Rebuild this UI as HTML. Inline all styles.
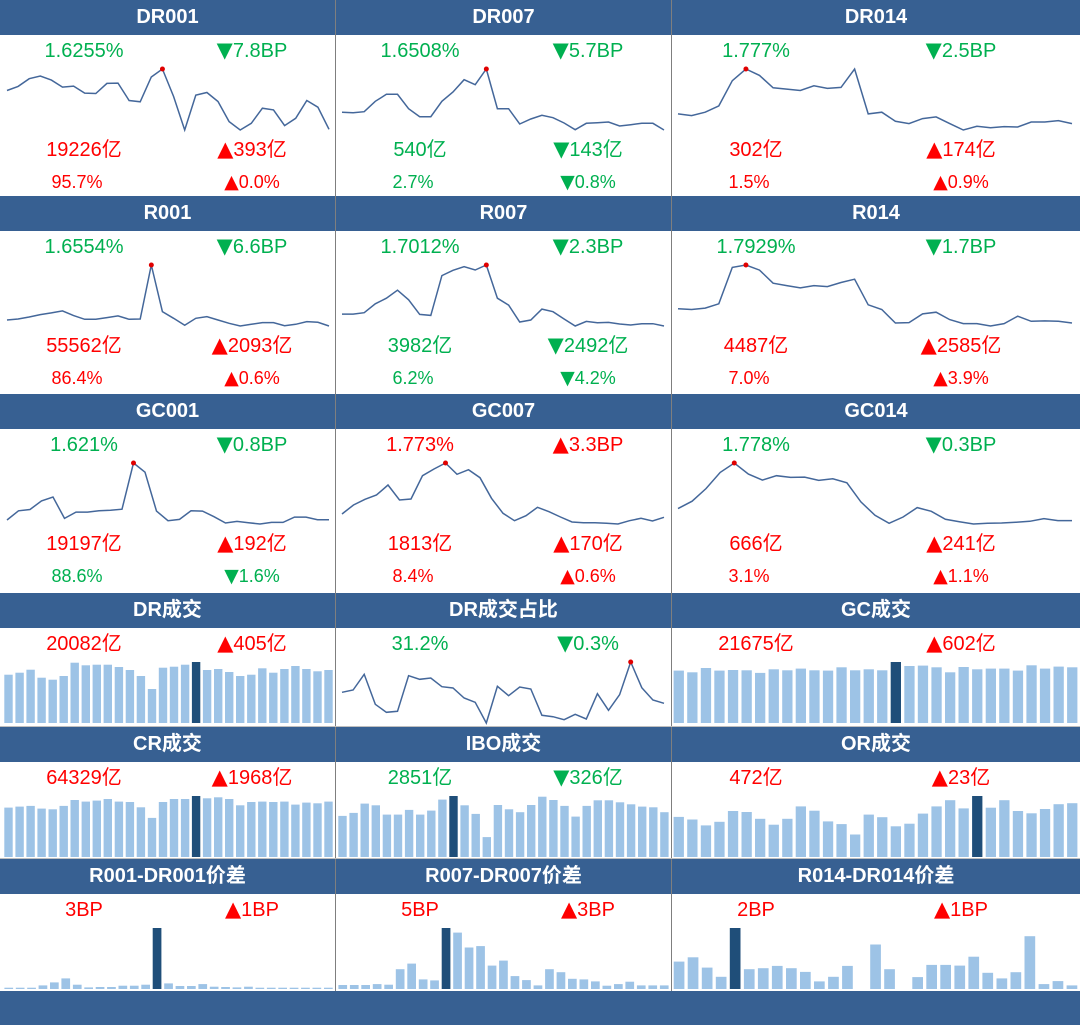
<!DOCTYPE html>
<html><head><meta charset="utf-8">
<style>
body{margin:0;width:1080px;height:1025px;background:#fff;position:relative;overflow:hidden;font-family:"Liberation Sans","Noto Sans CJK SC",sans-serif;}
.hd{position:absolute;height:35px;background:#376092;color:#fff;font-weight:bold;font-size:20px;line-height:35px;text-align:center;}
.tx{position:absolute;transform:translate(-50%,-50%);white-space:nowrap;font-size:20px;line-height:24px;}
.tri{font-family:"DejaVu Sans",sans-serif;font-size:1.05em;line-height:0;}
.g{color:#00b050}.r{color:#ff0000}
.sm{font-size:18px;line-height:22px}
.vl{position:absolute;width:1px;background:#7f7f7f;top:0;height:991px}
.hl{position:absolute;height:1px;background:#bfbfbf;left:0;width:1080px}
svg{position:absolute;left:0;top:0}
</style></head>
<body>
<svg id="charts" width="1080" height="1025"></svg>
<div id="root"></div>
<script>
// ---- data ----
const dr001Values=[128,140,163,171,159,138,141,120,119,149,150,98,94,168,192,110,10,114,122,95,35,10,30,75,70,23,45,98,78,12];
const dr007Values=[82,81,84,115,136,136,93,69,69,115,143,180,165,212,93,93,47,62,73,66,50,30,49,51,53,41,45,49,49,29];
const dr014Values=[78,73,83,102,177,212,193,156,152,148,162,154,157,212,78,83,56,49,64,69,49,30,41,37,40,39,54,54,58,49];
const r001Values=[48,51,57,64,69,75,61,50,50,55,60,50,51,212,73,53,32,53,58,48,38,30,35,40,40,31,35,43,41,30];
const r007Values=[64,64,68,95,112,136,107,63,60,180,196,207,197,212,112,91,40,46,79,71,49,28,42,38,39,34,31,35,35,28];
const r014Values=[80,78,82,95,203,210,195,156,149,142,149,146,158,168,92,78,38,39,65,70,48,36,36,29,36,58,43,44,43,38];
const gc001Values=[45,73,77,103,115,50,69,69,73,75,78,218,190,72,43,47,73,72,55,36,41,37,33,38,38,54,54,46,46];
const gc007Values=[63,90,107,120,150,105,108,178,198,216,182,196,172,110,65,43,58,83,70,54,39,37,37,35,33,43,50,42,53];
const gc014Values=[80,102,140,188,216,183,165,178,173,174,164,169,157,100,60,36,55,83,72,48,41,34,36,37,39,42,50,44,44];
const drRatioValues=[104,111,158,68,44,47,154,143,147,121,117,87,74,12,122,94,120,114,35,31,22,38,24,100,50,97,195,118,81,71];
const drVolValues=[145,151,160,136,130,141,181,173,175,175,168,159,141,102,166,169,175,183,159,162,153,141,145,164,151,162,171,162,155,159];
const gcVolValues=[158,153,166,158,160,159,151,162,159,164,159,158,168,159,162,159,184,172,173,168,153,169,162,164,164,158,174,164,170,168];
const crVolValues=[149,152,154,146,144,154,172,167,170,175,167,166,150,118,166,175,175,184,177,180,175,156,166,167,166,167,158,164,162,167];
const iboVolValues=[124,133,161,156,128,128,142,128,140,173,184,156,130,60,157,144,135,157,182,172,154,122,154,171,171,165,159,152,150,135];
const orVolValues=[123,115,97,108,141,138,117,99,117,155,142,109,101,69,130,122,94,102,133,155,174,149,187,151,174,141,134,147,162,165];
const sp001Values=[4,4,4,11,20,32,13,5,6,6,10,10,13,185,17,9,9,15,7,6,5,7,4,4,4,4,4,4,4];
const sp007Values=[12,12,12,15,13,60,77,29,26,185,171,126,130,71,86,39,27,11,60,51,31,29,23,10,15,22,11,11,11];
const sp014Values=[83,96,65,37,185,60,63,70,63,52,23,37,70,0,135,60,0,36,73,73,71,98,49,32,51,160,15,24,11];
const spDarkIdx=[13,9,4];
const volDarkIdx=[17,null,16,17,10,22];
const headerTitles=["DR001","DR007","DR014","R001","R007","R014","GC001","GC007","GC014","DR成交","DR成交占比","GC成交","CR成交","IBO成交","OR成交","R001-DR001价差","R007-DR007价差","R014-DR014价差"];
const texts=[
 [["1.6255%","g"],["▼7.8BP","g"],["19226亿","r"],["▲393亿","r"],["95.7%","r"],["▲0.0%","r"]],
 [["1.6508%","g"],["▼5.7BP","g"],["540亿","g"],["▼143亿","g"],["2.7%","g"],["▼0.8%","g"]],
 [["1.777%","g"],["▼2.5BP","g"],["302亿","r"],["▲174亿","r"],["1.5%","r"],["▲0.9%","r"]],
 [["1.6554%","g"],["▼6.6BP","g"],["55562亿","r"],["▲2093亿","r"],["86.4%","r"],["▲0.6%","r"]],
 [["1.7012%","g"],["▼2.3BP","g"],["3982亿","g"],["▼2492亿","g"],["6.2%","g"],["▼4.2%","g"]],
 [["1.7929%","g"],["▼1.7BP","g"],["4487亿","r"],["▲2585亿","r"],["7.0%","r"],["▲3.9%","r"]],
 [["1.621%","g"],["▼0.8BP","g"],["19197亿","r"],["▲192亿","r"],["88.6%","g"],["▼1.6%","g"]],
 [["1.773%","r"],["▲3.3BP","r"],["1813亿","r"],["▲170亿","r"],["8.4%","r"],["▲0.6%","r"]],
 [["1.778%","g"],["▼0.3BP","g"],["666亿","r"],["▲241亿","r"],["3.1%","r"],["▲1.1%","r"]],
 [["20082亿","r"],["▲405亿","r"]],
 [["31.2%","g"],["▼0.3%","g"]],
 [["21675亿","r"],["▲602亿","r"]],
 [["64329亿","r"],["▲1968亿","r"]],
 [["2851亿","g"],["▼326亿","g"]],
 [["472亿","r"],["▲23亿","r"]],
 [["3BP","r"],["▲1BP","r"]],
 [["5BP","r"],["▲3BP","r"]],
 [["2BP","r"],["▲1BP","r"]]
];
// ---- layout ----
const colX=[0,336,672], colW=[335,335,408];
const rowY=[0,196,394,593,727,859];
const lineX=[[7,329],[342,664],[678,1072]];
const barX=[[3,334],[337,670],[672,1079]];
const root=document.getElementById('root');
const svg=document.getElementById('charts');
const NS='http://www.w3.org/2000/svg';
const lineSeries=[dr001Values,dr007Values,dr014Values,r001Values,r007Values,r014Values,gc001Values,gc007Values,gc014Values];
const barSeries={9:drVolValues,11:gcVolValues,12:crVolValues,13:iboVolValues,14:orVolValues,15:sp001Values,16:sp007Values,17:sp014Values};

function drawLine(vals,c,top,y0,h){
  const mn=Math.min(...vals),mx=Math.max(...vals);
  const xs=i=>lineX[c][0]+i*(lineX[c][1]-lineX[c][0])/(vals.length-1);
  const ys=v=>top+y0+(mx-v)/(mx-mn)*h;
  const p=document.createElementNS(NS,'polyline');
  p.setAttribute('points',vals.map((v,i)=>xs(i).toFixed(1)+','+ys(v).toFixed(1)).join(' '));
  p.setAttribute('fill','none');p.setAttribute('stroke','#44679a');p.setAttribute('stroke-width','1.5');
  
  
  svg.appendChild(p);
  const mi=vals.indexOf(mx);
  const d=document.createElementNS(NS,'circle');
  d.setAttribute('cx',xs(mi));d.setAttribute('cy',ys(mx));d.setAttribute('r','2.5');d.setAttribute('fill','#e00000');
  
  
  svg.appendChild(d);
}
function drawBars(vals,c,top,dark){
  const mx=Math.max(...vals);
  const sp=(barX[c][1]-barX[c][0])/vals.length, w=sp*0.76;
  vals.forEach((v,i)=>{
    const h=v/mx*61;
    const r=document.createElementNS(NS,'rect');
    r.setAttribute('x',(barX[c][0]+i*sp+(sp-w)/2).toFixed(1));
    r.setAttribute('y',(top+130-h).toFixed(1));
    r.setAttribute('width',w.toFixed(1));r.setAttribute('height',Math.max(h,0).toFixed(1));
    r.setAttribute('fill',i===dark?'#1f4e79':'#9dc3e6');
    
    
    svg.appendChild(r);
  });
}
function addText(s,cls,x,y,small){
  const d=document.createElement('div');
  d.className='tx '+cls+(small?' sm':'');
  d.style.left=x+'px';d.style.top=y+'px';
  const m=s.match(/^([▲▼])(.*)$/);
  if(m){
    const t=document.createElement('span');t.className='tri';t.textContent=m[1];
    d.appendChild(t);d.appendChild(document.createTextNode(m[2]));
  } else d.textContent=s;
  
  
  root.appendChild(d);
}
for(let k=0;k<18;k++){
  const row=Math.floor(k/3),c=k%3,top=rowY[row];
  const h=document.createElement('div');
  h.className='hd';h.style.left=colX[c]+'px';h.style.top=top+'px';h.style.width=colW[c]+'px';
  h.textContent=headerTitles[k];
  
  
  root.appendChild(h);
  const lx=colX[c]+84, rx=colX[c]+(c===2?289:252);
  const t=texts[k];
  addText(t[0][0],t[0][1],lx,top+51);
  addText(t[1][0],t[1][1],rx,top+51);
  if(t.length>2){
    addText(t[2][0],t[2][1],lx,top+150);
    addText(t[3][0],t[3][1],rx,top+150);
    addText(t[4][0],t[4][1],lx-7,top+182,true);
    addText(t[5][0],t[5][1],rx,top+182,true);
  }
  if(k<9) drawLine(lineSeries[k],c,top,69,61);
  else if(k===10) drawLine(drRatioValues,c,top,69,61);
  else if(k<15) drawBars(barSeries[k],c,top,volDarkIdx[k-9]);
  else drawBars(barSeries[k],c,top,spDarkIdx[k-15]);
}
[335,671].forEach(x=>{const v=document.createElement('div');v.className='vl';v.style.left=x+'px';
  
  
  root.appendChild(v);});
[726,858].forEach(y=>{const v=document.createElement('div');v.className='hl';v.style.top=y+'px';
  
  
  root.appendChild(v);});
const fb=document.createElement('div');
fb.className='hd';fb.style.left='0px';fb.style.top='991px';fb.style.width='1080px';fb.style.height='34px';


root.appendChild(fb);
</script>
</body></html>
